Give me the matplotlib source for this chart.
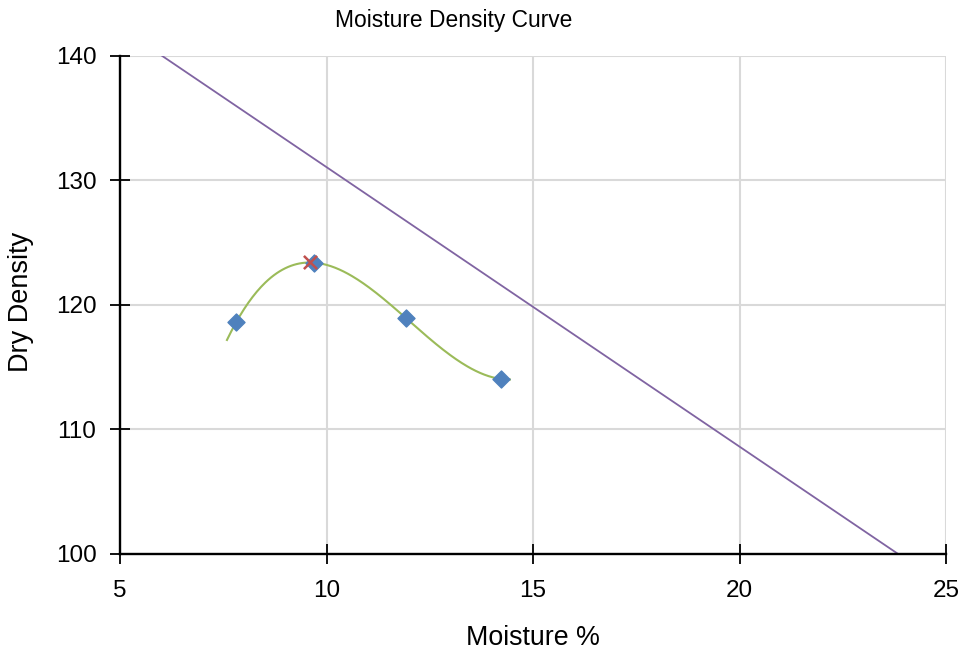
import numpy as np
import matplotlib
matplotlib.use("Agg")
import matplotlib.pyplot as plt

plt.rcParams['font.family'] = ['Liberation Sans', 'DejaVu Sans']

# Proctor test results
moisture = [7.81, 9.70, 11.92, 14.22]
dry_density = [118.6, 123.4, 118.96, 114.06]

# Fitted curve range and optimum point
curve_range = [7.59, 14.44]
optimum_moisture = [9.60]
optimum_density = [123.45]

# Zero air voids line end points
zav_moisture = [5.0, 25.0]
zav_density = [142.3, 97.4]

x_ticks = [5, 10, 15, 20, 25]
y_ticks = [100, 110, 120, 130, 140]

fig = plt.figure(figsize=(9.61, 6.54), dpi=100)
ax = fig.add_axes([120 / 961, 100 / 654, 826 / 961, 498 / 654])

coef = np.polyfit(moisture, dry_density, 3)
xs = np.linspace(curve_range[0], curve_range[1], 200)
ax.plot(xs, np.polyval(coef, xs), color='#9BBB59', lw=1.5, zorder=3)

ax.plot(zav_moisture, zav_density, color='#8064A2', lw=1.3, zorder=2)

ax.scatter(moisture, dry_density, marker='D', s=75, color='#4F81BD', zorder=4)
ax.scatter(optimum_moisture, optimum_density, marker='x', s=90, color='#C0504D',
           linewidths=1.8, zorder=5)

ax.set_xlim(5, 25)
ax.set_ylim(100, 140)
ax.set_xticks(x_ticks)
ax.set_yticks(y_ticks)
ax.grid(True, color='#D9D9D9', lw=1.5)
ax.set_axisbelow(True)

for s in ['top', 'right']:
    ax.spines[s].set_visible(False)
for s in ['left', 'bottom']:
    ax.spines[s].set_color('black')
    ax.spines[s].set_linewidth(1.7)

ax.tick_params(axis='both', direction='inout', length=14, width=1.3,
               labelsize=17.5, colors='black')
ax.tick_params(axis='y', pad=10)
ax.tick_params(axis='x', pad=11.5)

fig.text(454 / 961, 1 - 20 / 654, 'Moisture Density Curve', ha='center', va='center',
         fontsize=16.4)
fig.text(533 / 961, 1 - 638 / 654, 'Moisture %', ha='center', va='center', fontsize=19.3)
fig.text(21 / 961, 1 - 302 / 654, 'Dry Density', ha='center', va='center',
         rotation=90, fontsize=19.5)

fig.savefig('out.png', dpi=100)
